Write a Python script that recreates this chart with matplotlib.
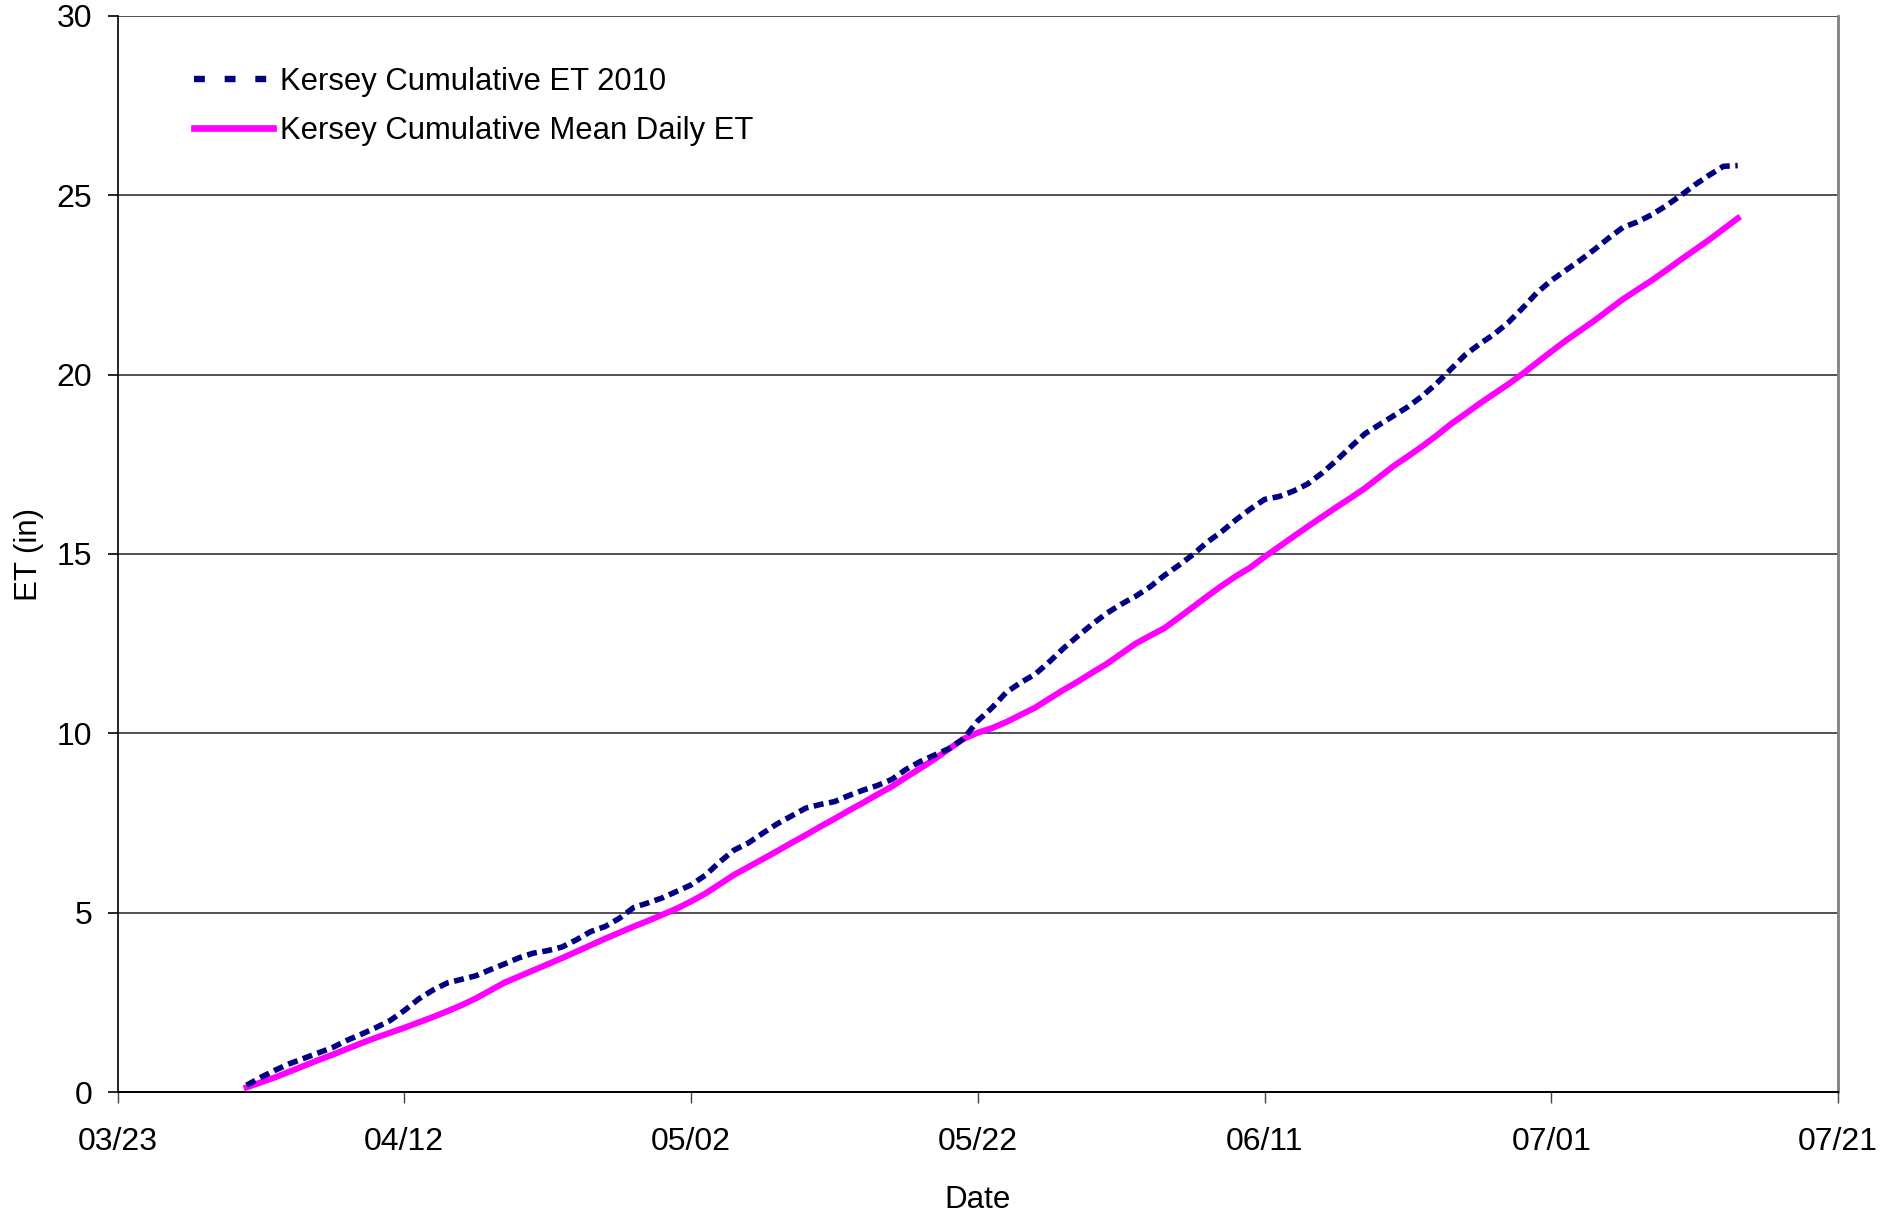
import matplotlib
matplotlib.use("Agg")
import matplotlib.pyplot as plt
import matplotlib.dates as mdates
from matplotlib.lines import Line2D
import pandas as pd

plt.rcParams["font.family"] = ["Liberation Sans", "DejaVu Sans"]

START_DATE = "2010-04-01"

# cumulative ET (in), one value per day from 04/01 to 07/14
ET_2010 = [
    0.20, 0.42, 0.62, 0.80, 0.95, 1.10, 1.25, 1.45, 1.62, 1.80,
    2.00, 2.28, 2.60, 2.85, 3.05, 3.15, 3.25, 3.42, 3.58, 3.75,
    3.88, 3.95, 4.05, 4.25, 4.48, 4.62, 4.85, 5.15, 5.28, 5.42,
    5.60, 5.78, 6.05, 6.42, 6.75, 6.95, 7.22, 7.48, 7.70, 7.92,
    8.02, 8.10, 8.27, 8.42, 8.55, 8.72, 9.00, 9.22, 9.40, 9.58,
    9.85, 10.35, 10.72, 11.15, 11.42, 11.65, 12.00, 12.38, 12.72, 13.05,
    13.35, 13.60, 13.82, 14.08, 14.40, 14.68, 14.98, 15.33, 15.62, 15.95,
    16.25, 16.52, 16.60, 16.75, 16.95, 17.25, 17.60, 17.98, 18.35, 18.60,
    18.85, 19.10, 19.40, 19.75, 20.15, 20.55, 20.85, 21.12, 21.45, 21.85,
    22.28, 22.62, 22.90, 23.18, 23.48, 23.80, 24.10, 24.25, 24.45, 24.70,
    24.98, 25.28, 25.55, 25.80, 25.82,
]

ET_MEAN = [
    0.14, 0.28, 0.42, 0.58, 0.74, 0.90, 1.05, 1.21, 1.37, 1.52,
    1.66, 1.80, 1.95, 2.10, 2.26, 2.43, 2.62, 2.84, 3.06, 3.23,
    3.40, 3.57, 3.74, 3.92, 4.10, 4.28, 4.45, 4.62, 4.78, 4.95,
    5.12, 5.32, 5.54, 5.80, 6.06, 6.28, 6.50, 6.72, 6.95, 7.17,
    7.40, 7.62, 7.85, 8.07, 8.30, 8.52, 8.78, 9.03, 9.29, 9.57,
    9.85, 10.02, 10.15, 10.32, 10.52, 10.72, 10.97, 11.22, 11.45, 11.70,
    11.94, 12.22, 12.50, 12.72, 12.93, 13.22, 13.52, 13.82, 14.11, 14.38,
    14.62, 14.92, 15.20, 15.48, 15.76, 16.03, 16.30, 16.56, 16.83, 17.14,
    17.45, 17.72, 18.00, 18.30, 18.62, 18.90, 19.19, 19.46, 19.73, 20.02,
    20.33, 20.64, 20.94, 21.22, 21.50, 21.80, 22.10, 22.36, 22.62, 22.90,
    23.19, 23.47, 23.75, 24.05, 24.35,
]

LABEL_2010 = "Kersey Cumulative ET 2010"
LABEL_MEAN = "Kersey Cumulative Mean Daily ET"

NAVY = "#000080"
MAGENTA = "#FF00FF"


def main():
    dates = pd.date_range(START_DATE, periods=len(ET_2010), freq="D")

    fig = plt.figure(figsize=(18.8, 12.15), dpi=100)
    ax = fig.add_axes([0.0625, 0.1009, 0.9152, 0.8863])

    ax.plot(dates, ET_2010, color=NAVY, linewidth=4.0,
            dashes=(1.8, 1.0), zorder=3)
    ax.plot(dates, ET_MEAN, color=MAGENTA, linewidth=4.4, zorder=2)

    ax.set_xlim(pd.Timestamp("2010-03-23"), pd.Timestamp("2010-07-21"))
    ax.set_ylim(0, 30)
    ax.set_xticks(pd.date_range("2010-03-23", "2010-07-21", freq="20D"))
    ax.xaxis.set_major_formatter(mdates.DateFormatter("%m/%d"))
    ax.set_yticks(range(0, 31, 5))

    ax.grid(axis="y", color="#333333", linewidth=1.2, zorder=0)
    ax.set_axisbelow(True)

    ax.spines["top"].set_visible(False)
    ax.spines["right"].set_color("#808080")
    ax.spines["right"].set_linewidth(2)
    ax.spines["left"].set_linewidth(1.2)
    ax.spines["bottom"].set_linewidth(1.4)

    ax.tick_params(axis="y", direction="out", length=7, width=1.2,
                   pad=11, labelsize=23)
    ax.tick_params(axis="x", direction="out", length=8, width=1.0,
                   color="#444444", pad=17, labelsize=23)

    ax.set_xlabel("Date", fontsize=22.5)
    ax.set_ylabel("ET (in)", fontsize=22.5)
    ax.xaxis.set_label_coords(0.5, -0.086)
    ax.yaxis.set_label_coords(-0.0427, 0.5)

    handles = [
        Line2D([], [], color=NAVY, linewidth=4.6, dashes=(1.7, 3.1)),
        Line2D([], [], color=MAGENTA, linewidth=4.8),
    ]
    ax.legend(handles, [LABEL_2010, LABEL_MEAN], loc="upper left",
              bbox_to_anchor=(0.0373, 0.964), frameon=False, fontsize=22.3,
              handlelength=2.55, handletextpad=0.22, labelspacing=0.62,
              borderaxespad=0)

    fig.savefig("out.png", dpi=100, facecolor="white")
    plt.close(fig)


if __name__ == "__main__":
    main()
